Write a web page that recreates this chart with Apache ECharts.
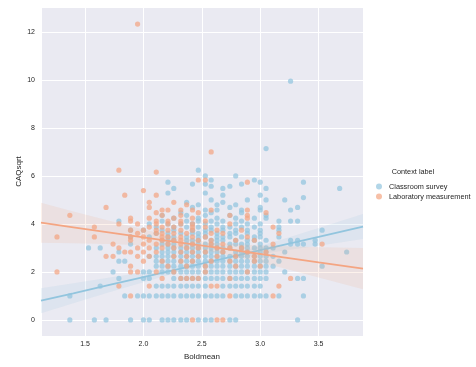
<!DOCTYPE html>
<html>
<head>
<meta charset="utf-8">
<script src="https://cdn.jsdelivr.net/npm/echarts@6/dist/echarts.min.js"></script>
<style>html,body{margin:0;padding:0;background:#fff}#c{width:476px;height:367px}</style>
</head>
<body>
<div id="c"></div>
<script>
// CAQsqrt levels (rows); each row of the Boldmean arrays belongs to the level with the same index
const caqLevels = [0, 1, 1.41, 1.73, 2, 2.24, 2.45, 2.65, 2.83, 3, 3.16, 3.32, 3.46, 3.61, 3.74, 3.87, 4, 4.12, 4.24, 4.36, 4.47, 4.58, 4.69, 4.8, 4.9, 5, 5.1, 5.2, 5.29, 5.39, 5.48, 5.57, 5.66, 5.74, 5.83, 6, 6.16, 6.24, 7, 7.14, 9.95, 12.33];

const classroomBoldmean = [
  [1.37,1.58,1.68,1.89,2.00,2.05,2.16,2.21,2.26,2.32,2.37,2.47,2.53,2.58,2.74,2.79,3.32],
  [1.37,1.84,1.95,2.00,2.05,2.11,2.16,2.21,2.26,2.32,2.37,2.42,2.47,2.53,2.58,2.63,2.68,2.79,2.84,2.89,2.95,3.00,3.05,3.16,3.37],
  [1.63,2.11,2.16,2.21,2.26,2.32,2.37,2.42,2.47,2.53,2.68,2.74,2.79,2.84,2.89,2.95,3.00],
  [1.79,2.00,2.05,2.26,2.32,2.37,2.42,2.47,2.53,2.58,2.63,2.68,2.74,2.79,2.84,2.89,2.95,3.00,3.05,3.32,3.37],
  [1.74,2.00,2.05,2.16,2.21,2.26,2.32,2.37,2.42,2.47,2.53,2.58,2.63,2.68,2.74,2.79,2.84,2.89,2.95,3.00,3.05,3.21],
  [2.11,2.16,2.21,2.26,2.32,2.37,2.42,2.47,2.53,2.58,2.63,2.68,2.74,2.79,2.84,2.89,2.95,3.00,3.05,3.11,3.53],
  [1.79,1.84,2.11,2.16,2.21,2.26,2.32,2.37,2.42,2.47,2.53,2.58,2.63,2.68,2.74,2.79,2.84,2.89,2.95,3.00,3.05,3.16],
  [2.05,2.11,2.16,2.21,2.26,2.32,2.37,2.42,2.47,2.53,2.58,2.63,2.68,2.74,2.79,2.84,2.89,2.95,3.00,3.05,3.11],
  [1.79,2.16,2.21,2.26,2.32,2.37,2.42,2.47,2.53,2.58,2.63,2.68,2.79,2.84,2.89,3.00,3.05,3.21,3.74],
  [1.53,1.63,2.11,2.21,2.26,2.32,2.37,2.42,2.47,2.53,2.58,2.63,2.68,2.74,2.84,2.89,2.95,3.00,3.05,3.11],
  [1.89,2.16,2.21,2.26,2.37,2.42,2.47,2.53,2.58,2.63,2.74,2.79,2.84,2.89,3.00,3.26,3.32,3.37,3.47],
  [2.16,2.21,2.26,2.37,2.42,2.47,2.58,2.63,2.68,2.79,2.89,2.95,3.05,3.26,3.32,3.47],
  [1.89,2.05,2.21,2.26,2.37,2.47,2.53,2.63,2.68,2.74,2.84,2.95,3.00,3.16],
  [2.11,2.21,2.32,2.42,2.47,2.53,2.63,2.74,2.79,2.89,3.00],
  [1.89,2.00,2.16,2.26,2.42,2.53,2.58,2.68,2.79,2.89,3.00,3.16,3.53],
  [2.11,2.26,2.37,2.47,2.58,2.68,2.74,2.84,2.95,3.16],
  [2.05,2.21,2.32,2.42,2.53,2.63,2.79,2.89,3.00],
  [1.79,2.16,2.37,2.47,2.58,2.68,2.84,3.16,3.26,3.32],
  [2.26,2.47,2.63,2.79,2.95,3.05],
  [2.16,2.37,2.53,2.74,3.05],
  [2.32,2.58,2.84],
  [2.53,2.63,2.84,3.00,3.26],
  [2.42,2.74,3.00,3.32],
  [2.47,2.63,2.79],
  [2.37,2.68],
  [2.58,2.89,3.05,3.21],
  [3.37],
  [2.68,3.00],
  [2.21,2.53],
  [],
  [2.26,2.68,3.05,3.68],
  [2.58,2.74],
  [2.42,2.53,2.84],
  [2.21,3.00,3.37],
  [2.58,2.95],
  [2.53,2.79],
  [],
  [2.47],
  [],
  [3.05],
  [3.26],
  []
];

const laboratoryBoldmean = [
  [2.42,2.63,2.68],
  [1.89,2.74,3.11],
  [1.79,2.05,2.58,2.63,3.16],
  [2.16,2.32,2.37,2.42,2.47,2.74,3.26],
  [1.26,1.89,1.95,2.11,2.26,2.53,2.89],
  [1.89,2.21,2.37,2.53,2.79,3.00],
  [2.00,2.16,2.32,2.42,2.58,2.74,2.95],
  [1.68,1.74,1.95,2.05,2.26,2.37,2.47,2.63,2.79,2.95],
  [1.84,1.89,2.00,2.11,2.32,2.42,2.53,2.68,2.89,3.05],
  [1.79,1.95,2.05,2.16,2.26,2.37,2.47,2.63,2.74,2.84],
  [1.74,2.00,2.11,2.21,2.32,2.42,2.58,2.68,3.11,3.53],
  [1.89,2.05,2.16,2.26,2.32,2.47,2.58,2.79,2.95],
  [1.26,1.58,1.89,2.00,2.16,2.21,2.32,2.42,2.53,2.89],
  [1.95,2.11,2.16,2.26,2.37,2.58,2.68,3.16],
  [1.89,2.00,2.11,2.21,2.32,2.42,2.63,2.84],
  [1.58,2.05,2.16,2.26,2.42,2.53,3.11],
  [1.79,1.95,2.11,2.21,2.32,2.42,2.74],
  [1.89,2.11,2.21,2.32,2.53],
  [1.89,2.05,2.26,2.42,2.89],
  [1.37,2.16,2.32,2.74,2.89],
  [2.11,2.47,3.05],
  [2.16,2.21,2.32,2.42,2.58,2.89],
  [1.68,2.05],
  [2.37],
  [2.05,2.26],
  [],
  [],
  [1.84,2.11],
  [],
  [2.00],
  [],
  [],
  [],
  [2.89],
  [2.47,2.53],
  [],
  [2.11],
  [1.79],
  [2.58],
  [],
  [],
  [1.95]
];

// Regression fits (line and 95% band)
const fitBoldmean = [1.123, 1.4, 1.7, 2.0, 2.3, 2.6, 2.9, 3.2, 3.5, 3.88];
const classroomFit   = [0.80, 1.11, 1.45, 1.78, 2.12, 2.46, 2.79, 3.13, 3.46, 3.89];
const classroomLower = [0.28, 0.69, 1.14, 1.57, 1.99, 2.36, 2.65, 2.89, 3.09, 3.37];
const classroomUpper = [1.32, 1.53, 1.76, 1.99, 2.25, 2.56, 2.93, 3.37, 3.83, 4.41];
const laboratoryFit   = [4.05, 3.86, 3.65, 3.44, 3.23, 3.03, 2.82, 2.61, 2.40, 2.14];
const laboratoryLower = [3.22, 3.20, 3.16, 3.11, 3.02, 2.84, 2.52, 2.15, 1.77, 1.28];
const laboratoryUpper = [4.88, 4.52, 4.14, 3.77, 3.44, 3.22, 3.12, 3.07, 3.03, 3.00];

const groupNames = ['Classroom survey', 'Laboratory measurement'];
const groupColors = ['#92c5de', '#f4a582'];
const xTickLabels = ['1.5', '2.0', '2.5', '3.0', '3.5'];
const yTickLabels = ['0', '2', '4', '6', '8', '10', '12'];

const FONT = 'Liberation Sans, Arial, sans-serif';

function toPoints(rows) {
  const pts = [];
  rows.forEach((row, i) => row.forEach(x => pts.push([x, caqLevels[i]])));
  return pts;
}
function toLine(ys) { return fitBoldmean.map((x, i) => [x, ys[i]]); }

function bandSeries(lower, upper, color, z) {
  return {
    type: 'custom', silent: true, z: z, clip: true,
    data: [0],
    renderItem: function (params, api) {
      const pts = [];
      for (let i = 0; i < fitBoldmean.length; i++) pts.push(api.coord([fitBoldmean[i], upper[i]]));
      for (let i = fitBoldmean.length - 1; i >= 0; i--) pts.push(api.coord([fitBoldmean[i], lower[i]]));
      return { type: 'polygon', shape: { points: pts }, style: { fill: color, opacity: 0.15 } };
    }
  };
}

const chart = echarts.init(document.getElementById('c'), null, { renderer: 'canvas' });
chart.setOption({
  animation: false,
  backgroundColor: '#ffffff',
  textStyle: { fontFamily: FONT },
  grid: { left: 41, top: 7, right: 113, bottom: 31, show: true, backgroundColor: '#EAEAF2', borderWidth: 0 },
  xAxis: {
    type: 'value', min: 1.123, max: 3.88, splitNumber: 5, minInterval: 0.5, maxInterval: 0.5,
    name: 'Boldmean', nameLocation: 'middle', nameGap: 14,
    nameTextStyle: { fontSize: 8, color: '#262626', fontFamily: FONT },
    axisLine: { show: false }, axisTick: { show: false },
    axisLabel: {
      fontSize: 7, color: '#262626', margin: 5, showMinLabel: false, showMaxLabel: false,
      formatter: v => { const s = v.toFixed(1); return xTickLabels.indexOf(s) >= 0 ? s : ''; }
    },
    splitLine: { show: true, lineStyle: { color: '#ffffff', width: 1 } }
  },
  yAxis: {
    type: 'value', min: -0.67, max: 13.04, splitNumber: 7, minInterval: 2, maxInterval: 2,
    name: 'CAQsqrt', nameLocation: 'middle', nameGap: 18, nameRotate: 90, nameMoveOverlap: false,
    nameTextStyle: { fontSize: 8, color: '#262626', fontFamily: FONT },
    axisLine: { show: false }, axisTick: { show: false },
    axisLabel: {
      fontSize: 7, color: '#262626', margin: 6, showMinLabel: false, showMaxLabel: false,
      formatter: v => { const s = String(Math.round(v)); return (Math.abs(v - Math.round(v)) < 1e-6 && yTickLabels.indexOf(s) >= 0) ? s : ''; }
    },
    splitLine: { show: true, lineStyle: { color: '#ffffff', width: 1 } }
  },
  legend: {
    data: groupNames, orient: 'vertical', left: 371, top: 178, itemWidth: 6, itemHeight: 6, itemGap: 3,
    icon: 'circle', textStyle: { fontSize: 7.3, color: '#262626', fontFamily: FONT, padding: [0, 0, 0, 2] },
    itemStyle: { opacity: 0.7 }
  },
  graphic: [{
    type: 'text', x: 413, y: 172, silent: true,
    style: { text: 'Context label', fontSize: 7.3, fill: '#262626', fontFamily: FONT, align: 'center', verticalAlign: 'middle' }
  }],
  series: [
    { name: groupNames[0], type: 'scatter', z: 2, symbolSize: 5.2, data: toPoints(classroomBoldmean),
      itemStyle: { color: groupColors[0], opacity: 0.72 }, emphasis: { disabled: true } },
    bandSeries(classroomLower, classroomUpper, groupColors[0], 3),
    { type: 'line', z: 4, data: toLine(classroomFit), showSymbol: false, silent: true,
      lineStyle: { color: groupColors[0], width: 1.8 }, itemStyle: { color: groupColors[0] } },
    { name: groupNames[1], type: 'scatter', z: 5, symbolSize: 5.2, data: toPoints(laboratoryBoldmean),
      itemStyle: { color: groupColors[1], opacity: 0.72 }, emphasis: { disabled: true } },
    bandSeries(laboratoryLower, laboratoryUpper, groupColors[1], 6),
    { type: 'line', z: 7, data: toLine(laboratoryFit), showSymbol: false, silent: true,
      lineStyle: { color: groupColors[1], width: 1.8 }, itemStyle: { color: groupColors[1] } }
  ]
});
</script>
</body>
</html>
